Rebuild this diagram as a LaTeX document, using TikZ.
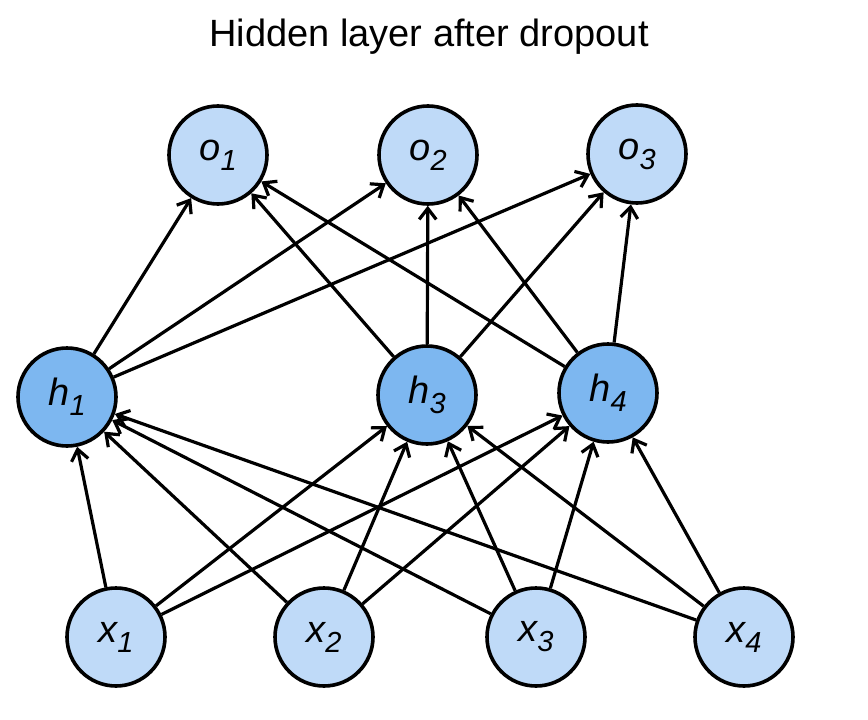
\documentclass[tikz,border=0pt]{standalone}
\usepackage{fontspec}
\setmainfont{Liberation Sans}
\usetikzlibrary{arrows.meta}
\definecolor{lightnode}{RGB}{191,218,248}
\definecolor{hidnode}{RGB}{125,183,240}
\newcommand{\nlbl}[2]{{\fontsize{38}{38}\selectfont\itshape #1\raisebox{-10pt}{\fontsize{29}{29}\selectfont #2}}}
\tikzset{
  neuron/.style={circle, draw=black, line width=3.6pt, minimum size=98pt, inner sep=0pt, fill=lightnode},
  hidneuron/.style={neuron, fill=hidnode},
  conn/.style={line width=3.2pt, -{Straight Barb[length=11pt,width=17pt,line width=3.2pt]}},
}
\begin{document}
\begin{tikzpicture}[x=1pt,y=-1pt]
\useasboundingbox (0,0) rectangle (868,720);
\node[anchor=base, font=\fontsize{38}{38}\selectfont] (title) at (429,46) {Hidden layer after dropout};
\node[neuron] (o1) at (218,155) {\nlbl{o}{1}};
\node[neuron] (o2) at (428,155) {\nlbl{o}{2}};
\node[neuron] (o3) at (637,154) {\nlbl{o}{3}};
\node[hidneuron] (h1) at (67,397) {\nlbl{h}{1}};
\node[hidneuron] (h3) at (427,395) {\nlbl{h}{3}};
\node[hidneuron] (h4) at (608,393) {\nlbl{h}{4}};
\node[neuron] (x1) at (116,637) {\nlbl{x}{1}};
\node[neuron] (x2) at (324,637) {\nlbl{x}{2}};
\node[neuron] (x3) at (536,637) {\nlbl{x}{3}};
\node[neuron] (x4) at (744,637) {\nlbl{x}{4}};
\foreach \h in {h1,h3,h4}{
  \foreach \o in {o1,o2,o3}{
    \draw[conn] (\h) -- (\o);
  }
}
\foreach \x in {x1,x2,x3,x4}{
  \foreach \h in {h1,h3,h4}{
    \draw[conn] (\x) -- (\h);
  }
}
\end{tikzpicture}
\end{document}
